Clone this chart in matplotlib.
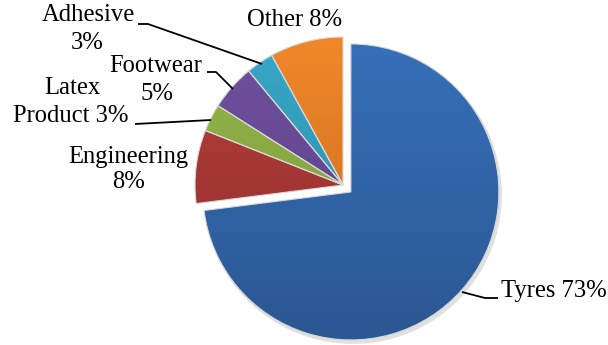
import numpy as np
import matplotlib
matplotlib.use("Agg")
import matplotlib.pyplot as plt
from matplotlib.colors import LinearSegmentedColormap
from matplotlib.patches import Wedge

categories = ["Tyres", "Engineering", "Latex Product", "Footwear", "Adhesive", "Other"]
values = [73, 8, 3, 5, 3, 8]
label_lines = [["Tyres 73%"], ["Engineering", "8%"], ["Latex", "Product 3%"],
               ["Footwear", "5%"], ["Adhesive", "3%"], ["Other 8%"]]
top_colors = ["#3670B8", "#B8403C", "#95B64A", "#7050A0", "#38A8C8", "#F0882A"]
bot_colors = ["#2B5792", "#8E2C29", "#78973A", "#5A3F80", "#2B87A3", "#C8691E"]

W, H = 608, 345
fig = plt.figure(figsize=(W / 100, H / 100), dpi=100)
ax = fig.add_axes([0, 0, 1, 1])

cx, cy, R = 343, H - 185, 148
explode = [10.5, 0, 0, 0, 0, 0]
wedges, _ = ax.pie(values, radius=R, center=(cx, cy), startangle=90, counterclock=False,
                   explode=explode, colors=top_colors, frame=True,
                   wedgeprops=dict(edgecolor="#D8D8D8", linewidth=0.8))
ax.set_xlim(0, W)
ax.set_ylim(0, H)
ax.set_aspect("equal")
ax.axis("off")

# shadow behind tyres
t = wedges[0]
sh = Wedge((t.center[0] + 2, t.center[1] - 3), R + 1, t.theta1, t.theta2,
           facecolor="#000000", alpha=0.12, edgecolor="none", zorder=0)
ax.add_patch(sh)

grad = np.linspace(1, 0, 256).reshape(-1, 1)
for w, c1, c2 in zip(wedges, top_colors, bot_colors):
    cmap = LinearSegmentedColormap.from_list("g", [c2, c1])
    cxw, cyw = w.center
    im = ax.imshow(grad, cmap=cmap, extent=(cxw - R, cxw + R, cyw - R, cyw + R),
                   origin="upper", aspect="auto", zorder=1.5, vmin=0, vmax=1)
    im.set_clip_path(w)
    w.set_facecolor("none")
    w.set_zorder(2)
ax.set_xlim(0, W)
ax.set_ylim(0, H)

fs = 17.7
font = dict(family=["Liberation Serif", "DejaVu Serif"], fontsize=fs, color="black")

def py(y):
    return H - y

# label anchor positions (pixel coords from top-left), one per line
anchors = [
    [(501, 291, "left")],
    [(128, 157, "center"), (129, 182, "center")],
    [(72, 88, "center"), (71, 116, "center")],
    [(156, 66, "center"), (157, 94, "center")],
    [(88, 15, "center"), (87, 43, "center")],
    [(295, 20, "center")],
]
for lines, pos in zip(label_lines, anchors):
    for txt, (x, y, ha) in zip(lines, pos):
        ax.text(x, py(y), txt, ha=ha, va="center", **font)

# leader lines
lk = dict(color="black", lw=1.3, zorder=3, solid_capstyle="butt")
ax.plot([138, 148, 262], [py(24), py(24), py(64)], **lk)
ax.plot([207, 216, 233], [py(72), py(72), py(89)], **lk)
ax.plot([135, 211], [py(124), py(120)], **lk)
ax.plot([462, 485, 498], [py(292), py(298), py(298)], **lk)

fig.savefig("out.png", dpi=100)
